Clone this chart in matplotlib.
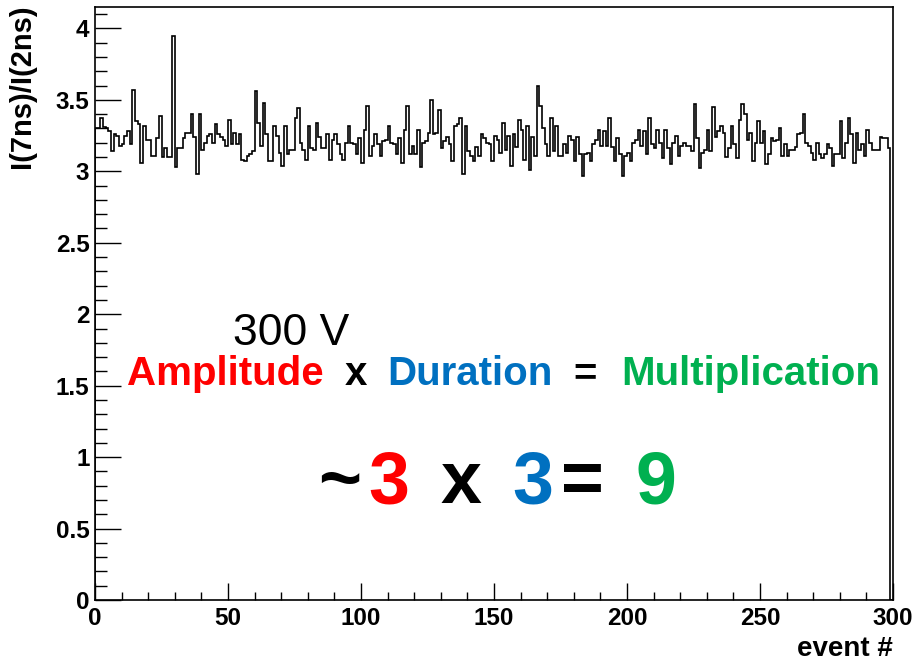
import numpy as np
import matplotlib.pyplot as plt
from matplotlib.ticker import MultipleLocator, FuncFormatter

plt.rcParams['font.family'] = ['Liberation Sans', 'DejaVu Sans']

# I(7ns)/I(2ns) per event (bins 0..299)
ratio = [
    3.30, 3.30, 3.37, 3.31, 3.30, 3.28, 3.14, 3.26, 3.25, 3.18,
    3.19, 3.25, 3.28, 3.19, 3.57, 3.35, 3.33, 3.06, 3.32, 3.22,
    3.22, 3.11, 3.11, 3.23, 3.39, 3.10, 3.16, 3.10, 3.10, 3.95,
    3.03, 3.16, 3.16, 3.23, 3.27, 3.27, 3.40, 3.24,
    2.98, 3.40, 3.15, 3.20, 3.25, 3.26, 3.20, 3.33, 3.26, 3.24, 3.22, 3.18,
    3.36, 3.19, 3.27, 3.19, 3.26, 3.08, 3.07, 3.11, 3.12, 3.14,
    3.56, 3.34, 3.18, 3.48, 3.26, 3.07, 3.07, 3.32, 3.25, 3.13,
    3.04, 3.32, 3.12, 3.15, 3.15,
    3.37, 3.44, 3.20, 3.15, 3.08,
    3.32, 3.16, 3.15, 3.34, 3.24, 3.16, 3.16, 3.26, 3.08, 3.22,
    3.26, 3.19, 3.12, 3.08, 3.20, 3.32, 3.20, 3.19, 3.12, 3.23,
    3.06, 3.29, 3.46, 3.11, 3.18, 3.26, 3.19, 3.11, 3.21, 3.22,
    3.32,
    3.20, 3.19, 3.12, 3.23, 3.06, 3.29, 3.46, 3.12, 3.18,
    3.12, 3.29, 3.03, 3.20, 3.21, 3.27, 3.50, 3.26, 3.27, 3.43,
    3.16, 3.21, 3.24, 3.19, 3.07, 3.32, 3.33, 3.37, 2.98, 3.32,
    3.14, 3.11, 3.07, 3.17, 3.11, 3.26, 3.23, 3.20, 3.19, 3.07,
    3.25, 3.22, 3.13, 3.34, 3.15, 3.25, 3.04, 3.26, 3.17, 3.36,
    3.29, 3.08, 3.32, 3.01, 3.24, 3.11, 3.60, 3.46, 3.30, 3.19,
    3.11, 3.37, 3.14, 3.32, 3.11, 3.11, 3.19, 3.13, 3.25, 3.22,
    3.07, 3.24, 3.12, 2.97, 3.12, 3.13, 3.07,
    3.19, 3.22, 3.29,
    3.18, 3.28, 3.18, 3.37, 3.17, 3.07, 3.23, 3.12, 2.97, 3.11,
    3.13, 3.07, 3.20, 3.22, 3.29, 3.18, 3.28, 3.12, 3.37, 3.19,
    3.16, 3.29, 3.20, 3.09, 3.29, 3.16, 3.05, 3.20, 3.25, 3.11,
    3.18, 3.20, 3.18, 3.18, 3.14,
    3.47, 3.23, 3.02, 3.13, 3.15,
    3.29, 3.14, 3.45, 3.24, 3.28, 3.32, 3.27, 3.10, 3.16, 3.32,
    3.19, 3.09, 3.36, 3.47, 3.40, 3.22, 3.27, 3.07, 3.20, 3.35,
    3.20, 3.28, 3.05, 3.12, 3.23, 3.21, 3.22, 3.30, 3.11, 3.19,
    3.11, 3.15,
    3.15, 3.17, 3.26, 3.27, 3.40, 3.20, 3.18, 3.13,
    3.08, 3.20, 3.12, 3.09, 3.12, 3.19, 3.16, 3.04, 3.12, 3.12,
    3.35, 3.09, 3.20, 3.37, 3.26, 3.06, 3.27, 3.15, 3.19, 3.11,
    3.29, 3.20, 3.15, 3.15, 3.15, 3.24, 3.23, 3.23, 3.16, 0.0,
]
edges = np.arange(len(ratio) + 1)

RED = '#ff0000'
BLUE = '#0070c0'
GREEN = '#00b050'

line1 = [("Amplitude", RED), (" ", None), ("x", 'black'), (" ", None),
         ("Duration", BLUE), (" ", None), ("=", 'black'), (" ", None),
         ("Multiplication", GREEN)]
line2 = [("~", 'black'), ("3", RED), (" ", None), ("x", 'black'), (" ", None),
         ("3", BLUE), ("=", 'black'), (" ", None), ("9", GREEN)]

W, H = 916, 661
fig = plt.figure(figsize=(W / 100, H / 100), dpi=100)
ax = fig.add_axes([95 / W, 1 - 600 / H, (893 - 95) / W, (600 - 7) / H])

ax.stairs(ratio, edges, color='black', lw=1.2, baseline=0)

ax.set_xlim(0, 300)
ax.set_ylim(0, 4.15)
ax.xaxis.set_major_locator(MultipleLocator(50))
ax.xaxis.set_minor_locator(MultipleLocator(10))
ax.yaxis.set_major_locator(MultipleLocator(0.5))
ax.yaxis.set_minor_locator(MultipleLocator(0.1))
ax.yaxis.set_major_formatter(FuncFormatter(lambda v, p: f"{v:g}"))
ax.tick_params(axis='y', which='major', direction='in', length=19, width=1, pad=4)
ax.tick_params(axis='y', which='minor', direction='in', length=8.5, width=1)
ax.tick_params(axis='x', which='major', direction='in', length=12, width=1, pad=5)
ax.tick_params(axis='x', which='minor', direction='in', length=6, width=1)
for lbl in ax.get_xticklabels() + ax.get_yticklabels():
    lbl.set_fontsize(17.5)
    lbl.set_fontweight('bold')
for sp in ax.spines.values():
    sp.set_linewidth(1.2)

fig.text(22 / W, 1 - 4 / H, "I(7ns)/I(2ns)", rotation=90, ha='center', va='top',
         fontsize=21, fontweight='bold')
fig.text(893 / W, 1 - 656 / H, "event #", ha='right', va='baseline',
         fontsize=20, fontweight='bold')

fig.text(233 / W, 1 - 345 / H, "300 V", ha='left', va='baseline', fontsize=32)

r = fig.canvas.get_renderer()


def text_width(s, size, weight):
    t = fig.text(0, 0, s, fontsize=size, fontweight=weight)
    w = t.get_window_extent(r).width
    t.remove()
    return w


def draw_parts(x0, x1, y_px, parts, size, weight='bold'):
    # lay the pieces out at natural width, then spread their centres
    # so the whole line spans x0..x1 like the (stretched) original
    space = text_width("a a", size, weight) - text_width("aa", size, weight)
    x = 0.0
    placed = []
    for s, c in parts:
        if s == " ":
            x += space
            continue
        w = text_width(s, size, weight)
        placed.append((s, c, x + w / 2, w))
        x += w
    first_w, last_w = placed[0][3], placed[-1][3]
    k = ((x1 - x0) - (first_w + last_w) / 2) / (x - (first_w + last_w) / 2)
    for s, c, cx, w in placed:
        px = x0 + first_w / 2 + (cx - first_w / 2) * k
        fig.text(px / W, 1 - y_px / H, s, color=c, fontsize=size,
                 fontweight=weight, ha='center', va='baseline')


draw_parts(127, 880, 385, line1, 29)
draw_parts(318, 676, 503, line2, 53)

fig.savefig("out.png", dpi=100)
